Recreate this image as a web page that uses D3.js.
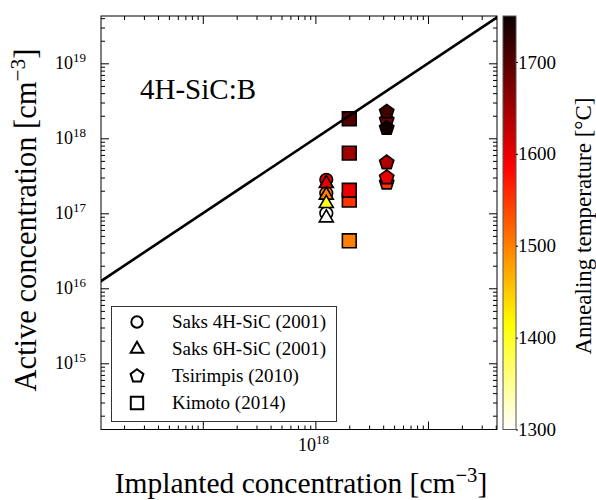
<!DOCTYPE html>
<html>
<head>
<meta charset="utf-8">
<script src="https://cdn.jsdelivr.net/npm/d3@7"></script>
<style>
body{margin:0;background:#fff;}
text{font-family:"Liberation Serif","DejaVu Serif",serif;fill:#000;}
</style>
</head>
<body>
<div class="chart"></div>
<script>
var width = 596, height = 500;

// Saks 4H-SiC (2001) - circles
var saks4hImpl = [1.25e18, 1.25e18, 1.25e18];
var saks4hAct  = [2.8e17, 1.85e17, 1.0e17];
var saks4hTemp = [1600, 1500, 1300];
// Saks 6H-SiC (2001) - triangles
var saks6hImpl = [1.25e18, 1.25e18, 1.25e18, 1.25e18];
var saks6hAct  = [2.5e17, 1.75e17, 1.35e17, 8.7e16];
var saks6hTemp = [1600, 1500, 1400, 1300];
// Tsirimpis (2010) - pentagons
var tsirImpl = [4.3e18, 4.3e18, 4.3e18, 4.3e18, 4.3e18, 4.3e18];
var tsirAct  = [1.75e18, 2.25e18, 1.37e18, 2.55e17, 3.0e17, 4.75e17];
var tsirTemp = [1680, 1715, 1745, 1550, 1600, 1640];
// Kimoto (2014) - squares
var kimImpl = [2e18, 2e18, 2e18, 2e18, 2e18];
var kimAct  = [1.82e18, 6.35e17, 1.5e17, 2.03e17, 4.3e16];
var kimTemp = [1700, 1650, 1550, 1600, 1500];

var refLine = [1e16, 1e20];
var legendNames = ["Saks 4H-SiC (2001)", "Saks 6H-SiC (2001)", "Tsirimpis (2010)", "Kimoto (2014)"];
var yTickExp = [15, 16, 17, 18, 19];
var xTickExp = [18];
var cTicks = [1300, 1400, 1500, 1600, 1700];
var tempRange = [1300, 1750];

var pLeft = 101, pRight = 497, pTop = 16, pBottom = 429.5;
var svg = d3.select(".chart").append("svg").attr("width", width).attr("height", height);

var x = d3.scaleLog().domain([Math.pow(10, 16.096), Math.pow(10, 19.613)]).range([pLeft, pRight]);
var y = d3.scaleLog().domain([Math.pow(10, 14.117), Math.pow(10, 19.631)]).range([pBottom, pTop]);

// matplotlib "hot_r"
var span = tempRange[1] - tempRange[0];
var color = d3.scaleLinear()
	.domain([tempRange[1], tempRange[1] - 0.365079 * span, tempRange[1] - 0.746032 * span, tempRange[0]])
	.range(["#0b0000", "#ff0000", "#ffff00", "#ffffff"]);

var defs = svg.append("defs");
defs.append("clipPath").attr("id", "clip")
	.append("rect").attr("x", pLeft).attr("y", pTop).attr("width", pRight - pLeft).attr("height", pBottom - pTop);

// ticks (inward, all sides)
var xAll = x.ticks(), yAll = y.ticks();
function isMajor(v){ return Math.abs(Math.log10(v) - Math.round(Math.log10(v))) < 1e-6; }
var xMinor = xAll.filter(function(v){ return !isMajor(v); }), xMajor = xAll.filter(isMajor);
var yMinor = yAll.filter(function(v){ return !isMajor(v); }), yMajor = yAll.filter(isMajor);

function tickAxis(axis, tr){
	var g = svg.append("g").attr("transform", tr).call(axis);
	g.select(".domain").remove();
	g.selectAll("text").remove();
	g.selectAll("line").attr("stroke", "#000").attr("stroke-width", 1);
}
tickAxis(d3.axisBottom(x).tickValues(xMinor).tickSize(-4), "translate(0," + pBottom + ")");
tickAxis(d3.axisBottom(x).tickValues(xMajor).tickSize(-8), "translate(0," + pBottom + ")");
tickAxis(d3.axisTop(x).tickValues(xMinor).tickSize(-4), "translate(0," + pTop + ")");
tickAxis(d3.axisTop(x).tickValues(xMajor).tickSize(-8), "translate(0," + pTop + ")");
tickAxis(d3.axisLeft(y).tickValues(yMinor).tickSize(-4), "translate(" + pLeft + ",0)");
tickAxis(d3.axisLeft(y).tickValues(yMajor).tickSize(-8), "translate(" + pLeft + ",0)");
tickAxis(d3.axisRight(y).tickValues(yMinor).tickSize(-4), "translate(" + pRight + ",0)");
tickAxis(d3.axisRight(y).tickValues(yMajor).tickSize(-8), "translate(" + pRight + ",0)");

// tick labels
function powLabel(sel){
	sel.text("10").append("tspan").attr("dy", -7).attr("font-size", 13).text(function(d){ return d; });
}
svg.append("g").selectAll("text").data(yTickExp).enter().append("text")
	.attr("x", 86).attr("y", function(d){ return y(Math.pow(10, d)) + 6; })
	.attr("text-anchor", "end").attr("font-size", 18).call(powLabel);
svg.append("g").selectAll("text").data(xTickExp).enter().append("text")
	.attr("x", function(d){ return x(Math.pow(10, d)) - 2; }).attr("y", 451)
	.attr("text-anchor", "middle").attr("font-size", 18).call(powLabel);

// markers
function pentagon(r){
	var pts = d3.range(5).map(function(k){ var a = -Math.PI / 2 + k * 2 * Math.PI / 5; return [r * Math.cos(a), r * Math.sin(a)]; });
	return "M" + pts.join("L") + "Z";
}
var shapes = [
	d3.symbol().type(d3.symbolCircle).size(125)(),
	d3.symbol().type(d3.symbolTriangle).size(85)(),
	pentagon(7.5),
	d3.symbol().type(d3.symbolSquare).size(190)()
];
var series = [
	{impl: saks4hImpl, act: saks4hAct, temp: saks4hTemp, shape: shapes[0]},
	{impl: saks6hImpl, act: saks6hAct, temp: saks6hTemp, shape: shapes[1]},
	{impl: tsirImpl, act: tsirAct, temp: tsirTemp, shape: shapes[2]},
	{impl: kimImpl, act: kimAct, temp: kimTemp, shape: shapes[3]}
];
var plot = svg.append("g").attr("clip-path", "url(#clip)");
series.forEach(function(s){
	plot.append("g").selectAll("path").data(s.act).enter().append("path")
		.attr("d", s.shape)
		.attr("transform", function(d, i){ return "translate(" + x(s.impl[i]) + "," + y(d) + ")"; })
		.attr("fill", function(d, i){ return color(s.temp[i]); })
		.attr("stroke", "#000").attr("stroke-width", 1.6);
});

// y = x line
plot.append("path").datum(refLine)
	.attr("d", d3.line().x(function(d){ return x(d); }).y(function(d){ return y(d); }))
	.attr("stroke", "#000").attr("stroke-width", 2.6).attr("fill", "none");

// frame
svg.append("rect").attr("x", pLeft).attr("y", pTop).attr("width", pRight - pLeft).attr("height", pBottom - pTop)
	.attr("fill", "none").attr("stroke", "#000").attr("stroke-width", 1);

svg.append("text").attr("x", 140).attr("y", 99).attr("font-size", 29).text("4H-SiC:B");

// legend
var lg = svg.append("g");
lg.append("rect").attr("x", 111.5).attr("y", 306.5).attr("width", 225).attr("height", 115)
	.attr("fill", "#fff").attr("stroke", "#333").attr("stroke-width", 1);
var rows = lg.selectAll("g.row").data(legendNames).enter().append("g").attr("class", "row")
	.attr("transform", function(d, i){ return "translate(0," + (322 + i * 27) + ")"; });
rows.append("path").attr("d", function(d, i){ return shapes[i]; })
	.attr("transform", "translate(137,0) scale(0.9)")
	.attr("fill", "#fff").attr("stroke", "#000").attr("stroke-width", 2.2);
rows.append("text").attr("x", 172).attr("y", 6).attr("font-size", 19).text(function(d){ return d; });

// colorbar
var cbX = 503, cbW = 13;
var c = d3.scaleLinear().domain(tempRange).range([pBottom, pTop]);
var grad = defs.append("linearGradient").attr("id", "cbar")
	.attr("x1", 0).attr("y1", 1).attr("x2", 0).attr("y2", 0);
grad.selectAll("stop").data(color.domain().slice().reverse()).enter().append("stop")
	.attr("offset", function(d){ return (d - tempRange[0]) / span; })
	.attr("stop-color", function(d){ return color(d); });
svg.append("rect").attr("x", cbX).attr("y", pTop).attr("width", cbW).attr("height", pBottom - pTop)
	.attr("fill", "url(#cbar)").attr("stroke", "#555").attr("stroke-width", 1);
var cax = svg.append("g").attr("transform", "translate(" + (cbX + cbW) + ",0)")
	.call(d3.axisRight(c).tickValues(cTicks).tickSize(2).tickPadding(0).tickFormat(d3.format("d")));
cax.select(".domain").remove();
cax.selectAll("line").attr("stroke", "#000");
cax.selectAll("text").attr("font-size", 19).attr("fill", "#000");

// axis titles
function unitLabel(sel, name){
	sel.text(name + " [cm");
	sel.append("tspan").attr("dy", -11).attr("font-size", "0.7em").text("\u22123");
	sel.append("tspan").attr("dy", 11).text("]");
}
svg.append("text").attr("x", 301).attr("y", 493).attr("text-anchor", "middle").attr("font-size", 29.5)
	.call(unitLabel, "Implanted concentration");
svg.append("text").attr("transform", "translate(36,220) rotate(-90)").attr("text-anchor", "middle").attr("font-size", 30.5)
	.call(unitLabel, "Active concentration");
svg.append("text").attr("transform", "translate(591,226) rotate(-90)").attr("text-anchor", "middle").attr("font-size", 23)
	.text("Annealing temperature [\u00b0C]");
</script>
</body>
</html>
